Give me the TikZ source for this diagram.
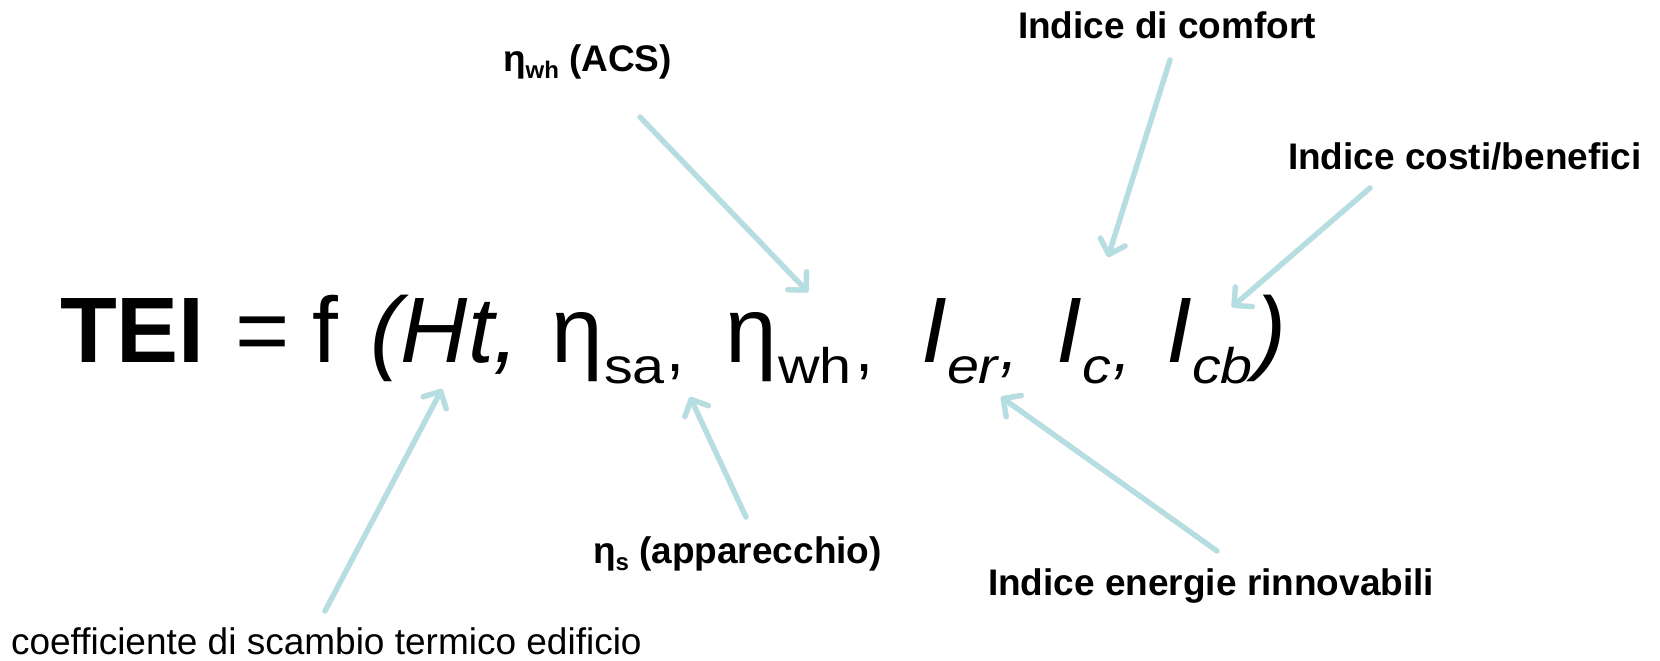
\documentclass[tikz,border=0pt]{standalone}
\usepackage{fontspec}
\setmainfont{Liberation Sans}
\newfontfamily\subfont[FakeStretch=1.15]{Liberation Sans}
\usetikzlibrary{arrows.meta}
\definecolor{arrowcol}{RGB}{180,222,225}
\newcommand{\lsub}[1]{\raisebox{-7pt}{\fontsize{24}{26}\selectfont #1}}
\begin{document}
\begin{tikzpicture}[x=1pt,y=-1pt,
  txtbase/.style={anchor=base west,inner sep=0pt,outer sep=0pt},
  bigrm/.style={txtbase,font=\fontsize{93}{100}\selectfont},
  bigbf/.style={txtbase,font=\fontsize{93}{100}\selectfont\bfseries},
  bigit/.style={txtbase,font=\fontsize{93}{100}\selectfont\itshape},
  commarm/.style={txtbase,font=\fontsize{65}{70}\selectfont},
  commait/.style={txtbase,font=\fontsize{65}{70}\selectfont\itshape},
  subrm/.style={txtbase,font=\subfont\fontsize{50}{55}\selectfont},
  subit/.style={txtbase,font=\subfont\fontsize{50}{55}\selectfont\itshape},
  lblbf/.style={txtbase,font=\fontsize{37}{40}\selectfont\bfseries},
  lblrm/.style={txtbase,font=\fontsize{37}{40}\selectfont},
  pointer/.style={draw=arrowcol,line width=5pt,line cap=round,line join=round,
    -{Straight Barb[length=13pt,width=26pt,round]}},
  pshadow/.style={draw=black!13,line width=5.5pt,line cap=round,line join=round,
    -{Straight Barb[length=13pt,width=26pt,round]},shift={(2,2.5)}}
]
\useasboundingbox (0,0) rectangle (1660,661);

% main formula
\node[bigbf] (tei) at (60,362) {TEI};
\node[bigrm] (eq) at (235,362) {=};
\node[bigrm] (f) at (312,362) {f};
\node[bigit] (ht) at (370,362) {(Ht,};
\node[bigrm] (eta1) at (551,362) {η};
\node[subrm] (sa) at (604,383) {sa};
\node[commarm] (c1) at (666,371) {,};
\node[bigrm] (eta2) at (725,362) {η};
\node[subrm] (wh) at (778,383) {wh};
\node[commarm] (c2) at (855,371) {,};
\node[bigit] (ier) at (921,362) {I};
\node[subit] (er) at (947,383) {er};
\node[commait] (c3) at (1000,369) {,};
\node[bigit] (ic) at (1056,362) {I};
\node[subit] (c) at (1082,383) {c};
\node[commait] (c4) at (1113,371) {,};
\node[bigit] (icb) at (1166,362) {I};
\node[subit] (cb) at (1192,383) {cb};
\node[bigit] (rp) at (1255,362) {)};

% labels
\node[lblbf] (acs) at (503,71) {η\lsub{wh} (ACS)};
\node[lblbf] (comfort) at (1018,39) {Indice di comfort};
\node[lblbf] (costi) at (1288,169) {Indice costi/benefici};
\node[lblbf] (etas) at (593,563) {η\lsub{s} (apparecchio)};
\node[lblbf] (rinn) at (988,595) {Indice energie rinnovabili};
\node[lblrm] (coeff) at (11,654) {coefficiente di scambio termico edificio};

% arrow end points
\coordinate (acsS) at (640,117);   \coordinate (acsT) at (808,292);
\coordinate (comS) at (1170,60);   \coordinate (comT) at (1108,257);
\coordinate (cosS) at (1370,188);  \coordinate (cosT) at (1232,307);
\coordinate (htS) at (325,611);    \coordinate (htT) at (442,389);
\coordinate (etS) at (746,517);    \coordinate (etT) at (690,397);
\coordinate (erS) at (1217,551);   \coordinate (erT) at (1001,397);

\foreach \s/\t in {acsS/acsT,comS/comT,cosS/cosT,htS/htT,etS/etT,erS/erT}{
  \draw[pshadow] (\s) -- (\t);
}
\foreach \s/\t in {acsS/acsT,comS/comT,cosS/cosT,htS/htT,etS/etT,erS/erT}{
  \draw[pointer] (\s) -- (\t);
}
\end{tikzpicture}
\end{document}
